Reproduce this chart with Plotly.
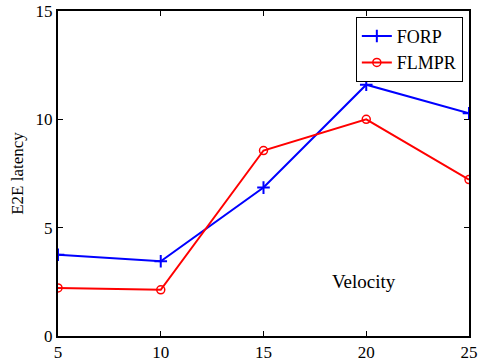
import plotly.graph_objects as go

velocity = [5, 10, 15, 20, 25]
forp = [3.75, 3.45, 6.85, 11.6, 10.28]
flmpr = [2.22, 2.13, 8.56, 10.0, 7.22]
x_ticks = [5, 10, 15, 20, 25]
y_ticks = [0, 5, 10, 15]

font = "Liberation Serif"
fig = go.Figure()
fig.add_trace(go.Scatter(x=velocity, y=forp, name="FORP", mode="lines+markers",
                         line=dict(color="#0000ff", width=2),
                         marker=dict(symbol="cross-thin", size=9, line=dict(color="#0000ff", width=2))))
fig.add_trace(go.Scatter(x=velocity, y=flmpr, name="FLMPR", mode="lines+markers",
                         line=dict(color="#ff0000", width=2),
                         marker=dict(symbol="circle-open", size=8, line=dict(color="#ff0000", width=1.5))))
fig.add_annotation(x=19.9, y=2.5, text="Velocity", showarrow=False,
                   font=dict(family=font, size=19, color="black"))
axis_common = dict(showgrid=False, zeroline=False, showline=True, linecolor="black", linewidth=2,
                   mirror="ticks", ticks="inside", ticklen=5, tickcolor="black",
                   ticklabeloverflow="allow", automargin=False,
                   tickfont=dict(family=font, size=17, color="black"))
fig.update_xaxes(range=[5, 25], tickvals=x_ticks, **axis_common)
fig.update_yaxes(range=[0, 15], tickvals=y_ticks,
                 title=dict(text="E2E latency", font=dict(family=font, size=17, color="black"), standoff=8),
                 **axis_common)
fig.update_layout(width=478, height=362, margin=dict(l=58, r=9, t=11, b=26),
                  font=dict(family=font, color="black"),
                  plot_bgcolor="white", paper_bgcolor="white", showlegend=True,
                  legend=dict(x=0.985, y=0.982, xanchor="right", yanchor="top",
                              bordercolor="black", borderwidth=1, bgcolor="white",
                              font=dict(family=font, size=18, color="black"),
                              tracegroupgap=0, itemwidth=30))
fig.write_html("out.html")
